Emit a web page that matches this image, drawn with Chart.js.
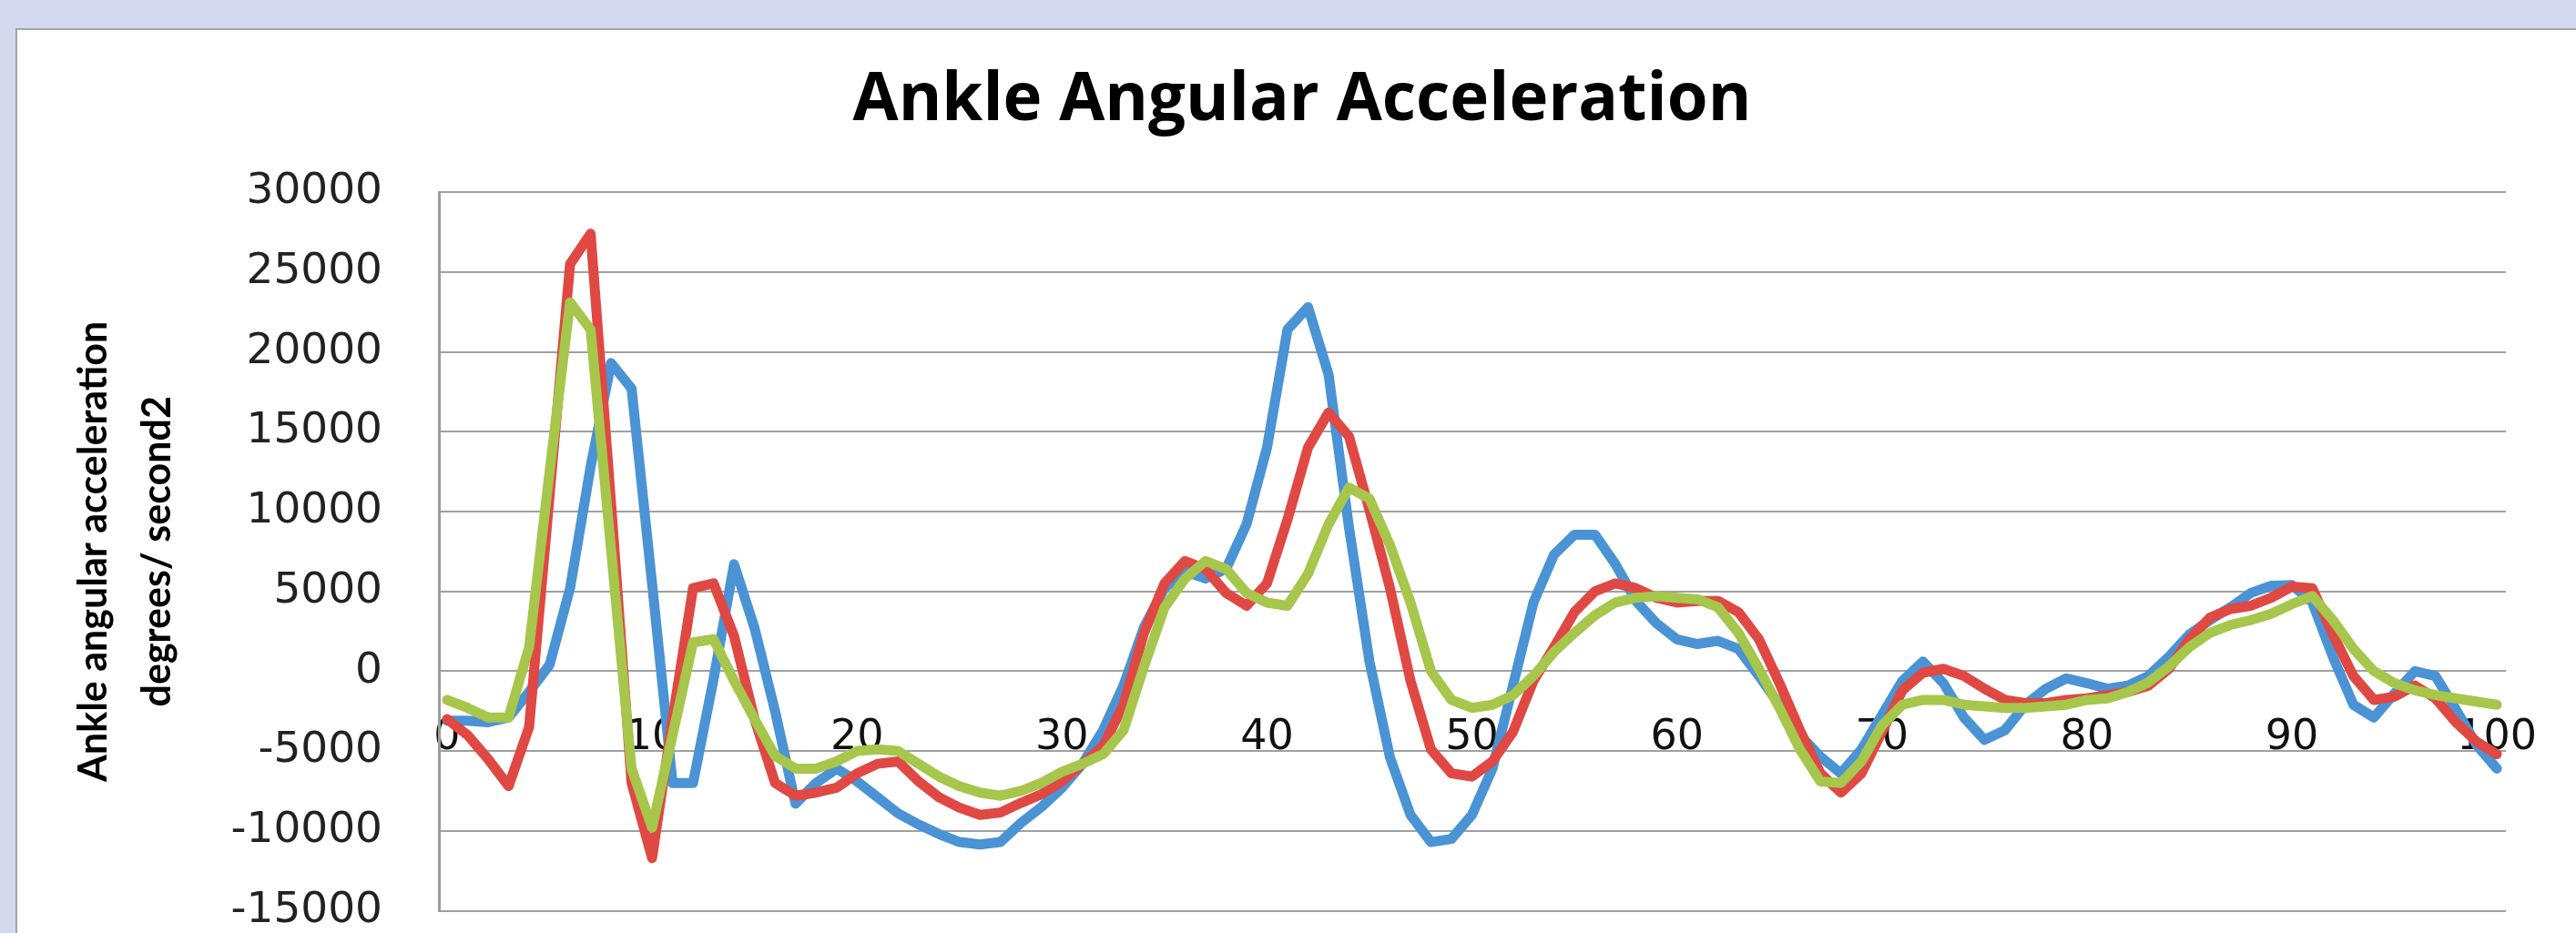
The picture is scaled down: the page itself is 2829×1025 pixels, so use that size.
<!DOCTYPE html>
<html><head><meta charset="utf-8">
<script src="https://cdn.jsdelivr.net/npm/chart.js@4.4.1/dist/chart.umd.min.js"></script>
<style>
html,body{margin:0;padding:0;background:#D3D9EE;overflow:hidden;width:2829px;height:1025px;}
#panel{position:absolute;left:17px;top:31px;width:2812px;height:994px;background:#fff;border-top:2px solid #A3A5AD;border-left:2px solid #A3A5AD;box-sizing:border-box;}
#c{position:absolute;left:0;top:0;}
</style></head><body>
<div id="panel"></div>
<canvas id="c" width="2829" height="1086"></canvas>
<script>
const positions = [0,1,2,3,4,5,6,7,8,9,10,11,12,13,14,15,16,17,18,19,20,21,22,23,24,25,26,27,28,29,30,31,32,33,34,35,36,37,38,39,40,41,42,43,44,45,46,47,48,49,50,51,52,53,54,55,56,57,58,59,60,61,62,63,64,65,66,67,68,69,70,71,72,73,74,75,76,77,78,79,80,81,82,83,84,85,86,87,88,89,90,91,92,93,94,95,96,97,98,99,100];
const xTickLabels = [0,10,20,30,40,50,60,70,80,90,100];
const yTickValues = [-15000,-10000,-5000,0,5000,10000,15000,20000,25000,30000];

const blueSeries = [-3100,-3100,-3200,-2900,-1300,400,5200,12800,19300,17700,
  5500,-7000,-7000,-500,6700,2700,-2500,-8300,-7000,-6100,
  -6900,-7900,-8900,-9600,-10200,-10700,-10850,-10700,-9500,-8500,
  -7300,-5800,-3700,-900,2750,5200,6250,5800,6400,9200,
  14000,21400,22800,18600,9000,600,-5400,-9000,-10700,-10500,
  -9000,-6100,-900,4300,7300,8550,8550,6700,4400,3000,
  2000,1700,1900,1400,-300,-2100,-4000,-5350,-6400,-4900,
  -2750,-600,600,-750,-2900,-4300,-3700,-2100,-1100,-450,
  -750,-1100,-900,-300,900,2300,3200,4000,4900,5350,
  5400,4300,900,-2100,-2900,-1400,0,-300,-2400,-4600,
  -6100];
const redSeries = [-3000,-4000,-5500,-7200,-3500,11000,25500,27400,10500,-7000,
  -11700,-3000,5200,5500,2200,-3000,-7000,-7800,-7600,-7300,
  -6400,-5800,-5650,-6900,-7900,-8550,-9000,-8850,-8250,-7700,
  -6900,-5800,-4700,-2100,2400,5500,6900,6400,4900,4100,
  5500,9500,14000,16200,14700,10100,5200,-600,-4900,-6400,
  -6600,-5650,-3800,-600,1500,3700,5000,5500,5200,4600,
  4300,4400,4400,3700,2000,-750,-3700,-6400,-7600,-6400,
  -3800,-1200,-100,150,-300,-1100,-1800,-2000,-2000,-1800,
  -1700,-1500,-1300,-900,150,2000,3350,3900,4100,4600,
  5300,5200,2300,-300,-1800,-1600,-900,-1700,-3200,-4400,
  -5200];
const greenSeries = [-1800,-2300,-2900,-2900,1500,12500,23100,21400,7600,-6100,
  -9800,-4000,1800,2000,-600,-3000,-5300,-6100,-6100,-5650,
  -5000,-4900,-5000,-5800,-6600,-7200,-7600,-7800,-7500,-7000,
  -6300,-5800,-5200,-3700,300,4000,5800,6900,6400,4900,
  4300,4100,6100,9200,11500,10800,7900,4300,0,-1800,
  -2300,-2100,-1500,-300,1200,2400,3500,4300,4600,4700,
  4600,4500,4000,2400,150,-2300,-4900,-6900,-7000,-5650,
  -3400,-2100,-1800,-1800,-2100,-2200,-2300,-2300,-2200,-2100,
  -1800,-1700,-1300,-700,300,1500,2400,2900,3200,3600,
  4200,4700,3200,1400,0,-750,-1200,-1500,-1700,-1900,
  -2100];

const seriesNames = ['Series1','Series2','Series3'];
const seriesColors = ['#4A93D5','#E04843','#A6C64C'];
const allSeries = [blueSeries, redSeries, greenSeries];

const toPoints = vals => positions.map((x, i) => ({x: x, y: vals[i]}));

new Chart(document.getElementById('c').getContext('2d'), {
  type: 'line',
  data: {
    datasets: allSeries.map((vals, k) => ({
      label: seriesNames[k],
      data: toPoints(vals),
      borderColor: seriesColors[k],
      backgroundColor: seriesColors[k],
      borderWidth: 11,
      pointRadius: 0,
      fill: false,
      tension: 0,
      borderJoinStyle: 'round',
      borderCapStyle: 'round',
      order: 3 - k
    }))
  },
  options: {
    responsive: false,
    animation: false,
    devicePixelRatio: 1,
    layout: {padding: {left: 108, right: 77, top: 32, bottom: 24}},
    plugins: {
      legend: {display: false},
      tooltip: {enabled: false},
      title: {
        display: true,
        text: 'Ankle Angular Acceleration',
        color: '#000',
        font: {family: 'Open Sans', weight: 'bold', size: 72.6, lineHeight: 1.2},
        padding: {top: 36, bottom: 56}
      }
    },
    scales: {
      x: {
        type: 'linear',
        min: -0.4,
        max: 100.44,
        position: {y: 0},
        z: 1,
        grid: {display: false},
        border: {display: false},
        afterBuildTicks: s => { s.ticks = xTickLabels.map(v => ({value: v})); },
        ticks: {
          font: {family: 'DejaVu Sans', size: 46, lineHeight: 1.2},
          color: '#111',
          padding: 38,
          maxRotation: 0,
          autoSkip: false,
          callback: v => String(v)
        }
      },
      y: {
        type: 'linear',
        min: -15000,
        max: 30000,
        afterBuildTicks: s => { s.ticks = yTickValues.map(v => ({value: v})); },
        afterFit: s => { s.width = 374; },
        grid: {color: '#A0A0A0', lineWidth: 2, drawTicks: false},
        border: {display: true, color: '#9C9C9C', width: 3},
        ticks: {
          font: {family: 'DejaVu Sans', size: 47, lineHeight: 1},
          color: '#222',
          padding: 62,
          callback: v => String(v)
        },
        title: {
          display: true,
          text: ['Ankle angular acceleration', 'degrees/ second2'],
          color: '#000',
          font: {family: 'Lato', weight: 'bold', size: 43, lineHeight: 1.63},
          padding: {top: -40, bottom: 0}
        }
      }
    }
  }
});
</script>
</body></html>
